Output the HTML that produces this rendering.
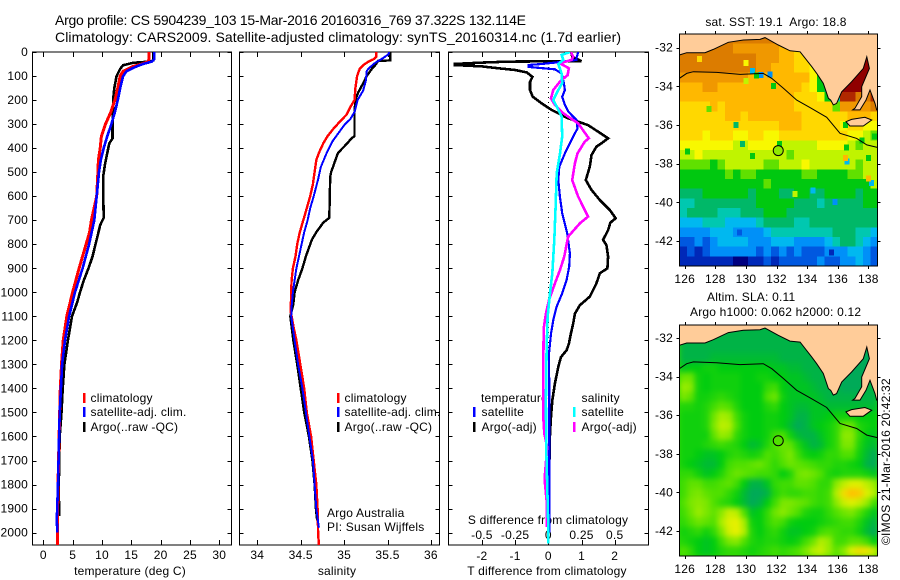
<!DOCTYPE html>
<html lang="en">
<head>
<meta charset="utf-8">
<title>Argo profile CS 5904239_103</title>
<style>
html,body{margin:0;padding:0;background:#fff;width:900px;height:580px;overflow:hidden}
svg{display:block}
text{font-family:"Liberation Sans",sans-serif;font-size:12px;fill:#000;letter-spacing:.2px}
.t{font-size:14px;letter-spacing:0}
.m{text-anchor:middle}
.e{text-anchor:end}
</style>
</head>
<body>
<svg id="chart" xmlns="http://www.w3.org/2000/svg" width="900" height="580" viewBox="0 0 900 580">
<defs>
<clipPath id="clip-sst"><rect x="679.5" y="34" width="198" height="232"/></clipPath>
<clipPath id="clip-sla"><rect x="679.5" y="325" width="198" height="231"/></clipPath>
<clipPath id="clip-p1"><rect x="32.5" y="52" width="199" height="493"/></clipPath>
<clipPath id="clip-p2"><rect x="239.5" y="52" width="200" height="493"/></clipPath>
<clipPath id="clip-p3"><rect x="448.5" y="52" width="200" height="493"/></clipPath>
<filter id="sla-blur" x="-5%" y="-5%" width="110%" height="110%" color-interpolation-filters="sRGB"><feGaussianBlur stdDeviation="3"/></filter>
</defs>
<text class="t" x="55" y="25" textLength="471" lengthAdjust="spacing">Argo profile: CS 5904239_103 15-Mar-2016 20160316_769 37.322S 132.114E</text>
<text class="t" x="55" y="42" textLength="566" lengthAdjust="spacing">Climatology: CARS2009. Satellite-adjusted climatology: synTS_20160314.nc (1.7d earlier)</text>

<text class="m" x="130" y="575">temperature (deg C)</text>
<text class="m" x="337" y="575">salinity</text>
<text class="m" x="547" y="575">T difference from climatology</text>
<text class="m" x="548" y="524">S difference from climatology</text>

<g>
<rect x="83" y="393" width="2.5" height="10" fill="#f00"/>
<rect x="83" y="407" width="2.5" height="10" fill="#00f"/>
<rect x="83" y="422" width="2.5" height="10" fill="#000"/>
<text x="90.5" y="402">climatology</text>
<text x="90.5" y="416">satellite-adj. clim.</text>
<text x="90.5" y="431">Argo(..raw -QC)</text>
</g>
<g>
<rect x="337" y="393" width="2.5" height="10" fill="#f00"/>
<rect x="337" y="407" width="2.5" height="10" fill="#00f"/>
<rect x="337" y="422" width="2.5" height="10" fill="#000"/>
<text x="344.5" y="402">climatology</text>
<text x="344.5" y="416">satellite-adj. clim.</text>
<text x="344.5" y="431">Argo(..raw -QC)</text>
<text x="327" y="517">Argo Australia</text>
<text x="327" y="531">PI: Susan Wijffels</text>
</g>
<g>
<text x="481" y="402">temperature</text>
<text x="581.5" y="402">salinity</text>
<rect x="473" y="407" width="2.5" height="10" fill="#00f"/>
<rect x="473" y="422" width="2.5" height="10" fill="#000"/>
<rect x="573" y="407" width="2.5" height="10" fill="#0ff"/>
<rect x="573" y="422" width="2.5" height="10" fill="#f0f"/>
<text x="481.5" y="416">satellite</text>
<text x="481.5" y="431">Argo(-adj)</text>
<text x="581.5" y="416">satellite</text>
<text x="581.5" y="431">Argo(-adj)</text>
</g>

<text class="m" x="776" y="26">sat. SST: 19.1&#160; Argo: 18.8</text>
<text x="707" y="301">Altim. SLA: 0.11</text>
<text x="690" y="316">Argo h1000: 0.062 h2000: 0.12</text>
<text transform="translate(890,545) rotate(-90)">©IMOS 21-Mar-2016 20:42:32</text>
</svg>
<script>
// ---- tick labels ----
const depthTicks = [0,100,200,300,400,500,600,700,800,900,1000,1100,1200,1300,1400,1500,1600,1700,1800,1900,2000];
const tempTicks = [0,5,10,15,20,25,30];
const salinityTicks = [34,34.5,35,35.5,36];
const tDiffTicks = [-2,-1,0,1,2];
const sDiffTicks = [-0.5,-0.25,0,0.25,0.5];
const lonTicks = [126,128,130,132,134,136,138];
const latTicks = [-32,-34,-36,-38,-40,-42];

// ---- temperature profiles (deg C) ----
const climTempDepth = [0,30,40,50,60,70,80,100,150,200,250,300,350,400,450,500,600,700,750,800,900,1000,1100,1200,1300,1400,1500,1600,1800,2000,2052];
const climTemp = [18,18,17.9,16.8,15.3,14.5,13.6,13.1,12.7,12.2,11.5,10.6,9.9,9.7,9.4,9.3,9.1,8.2,7.9,7.3,6.1,5,4,3.4,3.1,2.9,2.8,2.7,2.5,2.4,2.4];
const satTempDepth = [0,30,40,50,60,70,80,100,150,200,250,300,350,400,450,500,600,700,800,900,1000,1100,1200,1300,1400,1500,1600,1800,1950,2000];
const satTemp = [18.9,18.9,18.5,17,15.9,15,14.2,13.6,13.1,12.7,12.2,11.6,10.9,10.3,9.8,9.5,9.1,8.7,7.8,6.7,5.4,4.4,3.7,3.2,3,2.8,2.7,2.5,2.3,2.4];
const argoTempDepth = [0,35,40,45,50,55,70,100,150,200,250,300,360,380,420,470,520,560,690,720,760,800,850,900,950,1000,1040,1100,1200,1300,1400,1500,1600,1800,1930];
const argoTemp = [18.75,18.75,18.2,15.3,14.5,13.6,13.1,12.5,12.1,11.9,11.9,11.8,11.8,11.25,10.9,10.5,10.2,10.2,10.3,9.7,9.3,8.9,8.4,7.7,6.9,6.25,5.8,4.9,4.2,3.6,3.3,3.1,2.8,2.65,2.7];

// ---- salinity profiles ----
const climSalDepth = [0,20,30,40,55,70,100,150,200,230,260,290,320,350,380,420,450,500,550,600,650,700,750,800,850,900,950,1000,1080,1150,1200,1300,1400,1500,1600,1700,1800,1900,2000,2052];
const climSal = [35.37,35.37,35.34,35.28,35.22,35.18,35.15,35.13,35.12,35.07,35.03,34.95,34.875,34.81,34.76,34.71,34.68,34.66,34.64,34.61,34.57,34.53,34.49,34.46,34.44,34.41,34.395,34.39,34.385,34.42,34.45,34.495,34.54,34.57,34.62,34.65,34.68,34.695,34.7,34.71];
const satSalDepth = [0,10,20,30,40,50,70,80,120,160,200,250,280,300,340,370,420,480,530,600,650,700,750,800,850,900,950,1000,1060,1100,1200,1300,1400,1500,1600,1700,1800,1900,1980];
const satSal = [35.52,35.51,35.47,35.43,35.38,35.34,35.28,35.26,35.25,35.22,35.155,35.12,35.07,35.01,34.93,34.87,34.8,34.73,34.7,34.65,34.61,34.58,34.54,34.51,34.48,34.45,34.43,34.41,34.395,34.39,34.43,34.47,34.52,34.56,34.6,34.64,34.66,34.68,34.71];
const argoSalDepth = [0,35,37,50,70,100,130,170,200,250,350,360,390,420,450,500,520,690,710,750,780,820,850,900,950,1000,1050,1100,1200,1300,1400,1500,1600,1700,1800,1900,1950];
const argoSal = [35.53,35.53,35.39,35.37,35.32,35.26,35.22,35.16,35.13,35.12,35.12,35.085,35.01,34.93,34.9,34.85,34.84,34.83,34.76,34.68,34.63,34.59,34.56,34.52,34.47,34.43,34.415,34.38,34.415,34.46,34.5,34.54,34.595,34.635,34.66,34.675,34.69];

// ---- differences from climatology ----
const tDiffArgoDepth = [0,20,38,40,44,50,52,54,60,68,75,85,103,125,158,186,214,241,276,304,359,380,394,429,477,533,574,616,657,692,710,741,782,803,852,900,921,963,1018,1054,1089,1130,1172,1214,1241,1270,1310,1380,1450,1519,1588,1727,1935];
const tDiffArgo = [0.69,0.72,1,-1.2,-2,-2.85,-2.5,-2.85,-2,-1.5,-1,-0.65,-0.48,-0.55,-0.55,-0.47,-0.2,0.1,0.6,1.2,1.8,1.6,1.45,1.3,1.25,1.13,1.3,1.55,1.85,2.03,1.87,1.8,1.65,1.75,1.8,1.78,1.55,1.45,1.25,0.95,0.8,0.75,0.68,0.62,0.55,0.38,0.3,0.2,0.12,0.08,0.05,0.03,0.02];
const tDiffSatDepth = [0,25,33,44,50,54,62,72,89,130,158,186,220,248,283,318,366,422,477,533,602,671,755,838,893,949,1004,1060,1115,1172,1255,1450,1650,1900,2000];
const tDiffSat = [0.9,0.85,0.85,0.2,-0.2,-0.6,-0.6,0.2,0.4,0.47,0.5,0.42,0.5,0.6,0.85,0.88,0.7,0.5,0.33,0.3,0.35,0.42,0.57,0.65,0.63,0.55,0.42,0.25,0.15,0.08,0.02,0.03,0.03,0.03,0.03];
const sDiffSatDepth = [0,12,33,50,89,130,158,200,227,269,352,422,505,644,782,921,1004,1103,1241,1450,1658,1866,1977,2045];
const sDiffSat = [0.163,0.1,0.113,0.075,0.1,0.105,0.075,0.038,0.063,0.1,0.105,0.088,0.063,0.055,0.045,0.03,0.013,-0.005,-0.013,-0.018,-0.015,-0.005,0,0];
const sDiffArgoDepth = [0,20,33,47,68,96,123,158,193,220,255,297,359,373,422,463,533,602,685,713,768,852,907,963,1032,1089,1150,1300,1519,1588,1644,1755,1797,1866,1977];
const sDiffArgo = [0.17,0.188,0.175,0.088,0.155,0.145,0.088,0.038,0.02,0.05,0.113,0.225,0.305,0.275,0.22,0.2,0.18,0.225,0.3,0.238,0.15,0.12,0.088,0.05,0.005,-0.018,-0.035,-0.038,-0.038,-0.03,-0.008,-0.025,-0.025,-0.013,-0.013];

// ---- map coordinates ----
const coastLon = [125.65,126.13,127.33,127.87,128.85,129.83,130.92,131.25,132.12,132.88,133.54,133.97,134.3,134.63,135.06,135.39,135.54,135.71,135.93,136.26,136.91,137.67,137.9,138.07,137.57,137.57,137.13,136.98,137.46,137.85,138.11,138.44,138.55,138.6,138.6,125.65];
const coastLat = [-32.38,-32.26,-32.26,-32.09,-31.72,-31.6,-31.57,-31.48,-31.86,-32.16,-32.21,-32.64,-32.98,-33.33,-33.84,-34.62,-34.71,-34.96,-34.88,-34.28,-33.76,-33.07,-32.47,-33.07,-34.02,-34.53,-35.13,-35.22,-35.22,-34.71,-34.19,-34.88,-35.22,-35.22,-31.29,-31.29];
const islandLon = [136.54,136.91,137.78,138.22,137.67,136.8];
const islandLat = [-35.83,-35.71,-35.6,-35.74,-36.05,-36.05];
const shelfLon = [125.65,126.13,126.57,128.09,129.62,131.14,131.69,132.45,133.32,134.19,135.28,136.15,137.24,137.9,138.59];
const shelfLat = [-33.59,-33.33,-33.24,-33.28,-33.38,-33.33,-33.59,-34.1,-34.71,-35.1,-35.6,-36.43,-36.69,-37.03,-37.16];
const argoLon = 132.114;
const argoLat = -37.322;

// ---- SST map: colour level per 0.5-degree cell, north to south ----
const sstLevels = [
[14,14,14,14,14,14,14,14,14,14,14,14,14,13,13,13,13,13,13,13,13,13,13,13,13,13],
[14,14,14,14,14,14,14,13,13,13,13,13,13,12,12,11,11,10,10,10,10,10,10,10,10,10],
[14,14,14,14,14,14,14,14,14,14,13,13,13,12,12,11,11,9,8,7,7,7,7,7,16,16],
[14,14,14,14,14,14,14,14,14,14,13,13,12,12,12,11,11,10,7,5,5,5,16,16,16,16],
[13,13,13,13,13,13,13,13,13,12,12,12,12,12,12,12,12,10,7,6,5,16,16,16,16,16],
[12,12,12,13,13,12,12,12,12,12,12,12,12,12,12,12,11,10,7,6,5,16,16,16,15,15],
[12,12,12,12,12,12,12,12,12,12,12,12,12,12,12,11,11,11,10,7,5,15,15,14,14,15],
[11,11,11,11,12,11,12,12,12,12,12,12,12,12,12,11,11,11,11,11,8,13,13,13,13,14],
[11,11,11,11,11,11,12,12,11,12,12,12,12,12,12,12,11,11,11,11,11,11,12,12,12,11],
[11,11,11,11,11,11,11,11,11,11,11,11,11,12,12,12,11,11,11,11,11,10,11,11,10,10],
[11,11,11,10,11,11,11,10,10,11,11,10,10,11,11,11,11,11,11,11,11,11,10,10,9,8],
[10,10,10,10,10,10,10,9,9,10,10,10,10,9,9,9,9,9,10,10,10,10,9,8,9,9],
[9,9,10,9,9,9,9,9,9,9,9,9,9,9,8,9,9,9,9,9,9,9,9,9,9,9],
[8,8,8,8,7,8,9,9,9,9,9,8,8,9,9,9,10,9,9,9,9,9,9,8,9,9],
[7,7,7,7,7,7,8,7,8,8,7,7,7,7,7,7,8,8,7,7,7,7,8,8,9,9],
[7,7,7,7,7,7,7,7,7,7,7,8,7,7,7,7,7,7,7,7,7,7,7,7,7,9],
[6,6,6,7,7,7,7,7,7,6,7,7,7,6,6,7,7,6,6,7,7,7,7,6,7,7],
[5,5,6,6,6,6,6,6,6,6,7,7,7,7,7,6,6,6,5,6,6,6,6,6,7,7],
[5,6,6,6,6,5,5,5,6,6,6,7,7,7,6,6,6,6,6,6,6,6,6,6,6,6],
[4,4,4,5,5,5,4,4,4,4,5,6,6,6,6,5,5,6,6,6,6,6,6,6,6,6],
[3,3,3,3,4,4,4,3,3,3,3,4,5,5,5,5,5,5,5,5,6,6,6,5,5,4],
[2,2,3,2,3,4,4,4,4,3,3,3,4,4,4,3,3,3,3,4,5,6,6,5,4,3],
[1,2,1,2,3,3,3,3,3,3,2,3,2,3,2,3,2,2,2,3,3,3,4,4,3,2],
[1,1,1,1,1,1,1,0,0,1,1,2,1,2,2,2,2,2,3,2,2,3,3,4,3,2]
];
// isolated SST pixels that differ from their neighbours
const sstSpotLon = [126.96,130,130.44,131,131.58,130.7,130,131.8,127.6,129.35,129.77,132.2,126.17,130.44,136.59,136.5,137.6,138.4,138,136.6,138.2,138,136.5,133.2,134.4,135.83,129.57,135.6];
const sstSpotLat = [-32.59,-32.78,-33.2,-33.4,-33.38,-33.45,-33.72,-33.97,-35.17,-36,-36.98,-36.98,-37.38,-37.6,-37.16,-36,-36.8,-36.6,-37.7,-37.9,-39,-38.76,-37.7,-39.57,-39.4,-39.97,-41.55,-42.6];
const sstSpotLevel = [11,10,4,3,3,7,9,7,8,6,6,7,7,7,7,7,7,7,7,4,4,12,12,9,4,3,2,1];
const argoCellLevel = 8.5;

// ---- SLA map: sea level anomaly (cm) per 0.5-degree cell, north to south ----
const slaValues = [
[3,3,3,3,3,3,3,3,3,3,3,3,3,3,3,3,3,3,3,3,3,3,3,3,3,3],
[3,3,3,3,3,3,3,3,3,3,3,3,3,3,3,3,3,3,3,3,3,3,3,3,3,3],
[3,3,3,3,3,3,3,3,3,3,3,3,3,3,3,3,3,3,3,3,3,2,2,2,2,2],
[3,3,3,3,4,4,4,4,4,4,4,4,4,3,3,3,3,3,3,2,2,2,2,2,2,2],
[5,6,6,7,7,6,6,6,6,6,6,6,5,5,4,4,3,3,3,2,2,2,2,2,2,2],
[13,13,7,6,7,7,7,7,6,6,7,7,6,6,5,5,4,3,3,3,3,2,2,2,2,2],
[16,15,7,6,7,7,7,7,6,6,6,9,10,6,5,5,5,4,3,3,3,2,2,2,3,3],
[14,12,7,7,8,9,8,7,6,6,6,11,13,7,5,5,5,5,4,3,3,3,3,3,3,3],
[8,8,7,8,10,12,11,8,6,6,6,8,9,6,5,4,4,5,5,4,4,4,4,4,4,4],
[7,7,7,8,13,17,16,10,7,6,6,7,7,6,5,3,3,5,5,6,7,7,7,6,6,6],
[7,7,7,8,14,19,18,11,7,6,6,7,7,6,4,2,3,5,6,7,9,13,13,8,7,6],
[7,7,7,7,12,16,15,9,7,6,6,7,10,11,7,4,3,3,5,7,9,15,15,9,6,5],
[7,7,7,8,9,10,9,8,6,4,5,8,11,13,12,8,5,3,4,7,9,14,14,8,5,4],
[7,7,6,5,5,6,8,9,8,7,8,11,10,12,14,10,7,6,7,9,9,11,11,7,4,2],
[7,6,5,4,4,6,10,11,11,12,13,11,9,11,13,12,11,10,9,9,8,8,7,6,3,2],
[9,9,7,5,6,8,11,13,12,11,10,10,9,6,8,13,14,13,11,8,7,8,8,8,7,5],
[10,12,12,10,10,11,12,10,6,3,3,5,9,10,10,12,12,11,9,9,15,19,22,22,19,16],
[10,13,14,12,11,11,9,7,4,2,2,3,8,10,9,9,10,10,9,10,18,25,28,27,22,18],
[11,14,15,14,11,9,8,6,4,2,3,6,10,14,14,13,12,10,9,10,15,20,22,20,16,10],
[10,13,16,14,12,15,20,19,11,5,6,9,13,15,13,11,8,7,7,9,11,13,14,11,8,5],
[9,11,13,12,11,17,22,23,17,7,6,9,11,10,7,6,6,6,7,8,9,10,10,8,5,3],
[7,8,9,7,9,14,21,23,18,8,6,8,9,7,5,5,6,7,10,11,10,9,9,7,4,2],
[8,7,6,5,6,10,14,15,11,8,7,8,8,7,6,7,10,13,18,16,10,10,12,12,10,6],
[11,9,6,5,6,8,9,9,8,7,8,9,10,9,10,11,14,18,20,16,12,15,22,25,24,20]
];

const NS = 'http://www.w3.org/2000/svg';
const svg = document.getElementById('chart');
const colorStops = ['#000080','#0028b8','#0058e0','#0090f8','#00b8f0','#00c8b0','#00b868','#00c810','#60e000','#c0f400','#f8f800','#ffd800','#ffb800','#f09800','#dc7c00','#b02800','#900000'];
const slaScaleCm = [2,6,11,17,23,28];
const slaScaleColor = ['#00aa58','#00cc10','#50e000','#a8ee00','#e8f000','#ffc000'];

// axis functions
const yDepth = d => 52 + d * 0.2403;
const xTemp = v => 43.3 + v * 5.867;
const xSal = v => 257.3 + (v - 34) * 86.8;
const xTDiff = v => 548.3 + v * 33.2;
const xSDiff = v => 548.3 + v * 132.8;
const xLon = v => 684.7 + (v - 126) * 15.3;
const ySst = v => 47.7 + (-32 - v) * 19.33;
const ySla = v => 338 + (-32 - v) * 19.3;
const gridLon0 = 125.65, gridLat0 = -31.29, gridStep = 0.5;

function node(tag, attrs, parent) {
  const el = document.createElementNS(NS, tag);
  for (const k in attrs) el.setAttribute(k, attrs[k]);
  (parent || svg).appendChild(el);
  return el;
}
function hexRgb(h) { return [parseInt(h.slice(1,3),16), parseInt(h.slice(3,5),16), parseInt(h.slice(5,7),16)]; }
function mix(h1, h2, f) {
  const a = hexRgb(h1), b = hexRgb(h2);
  return 'rgb(' + a.map((v, n) => Math.round(v + (b[n] - v) * f)).join(',') + ')';
}
function levelColor(l) {
  const c = Math.max(0, Math.min(colorStops.length - 1, l));
  const i = Math.min(colorStops.length - 2, Math.floor(c));
  return mix(colorStops[i], colorStops[i + 1], c - i);
}
function slaColor(cm) {
  const c = Math.max(slaScaleCm[0], Math.min(slaScaleCm[slaScaleCm.length - 1], cm));
  let i = 0;
  while (i < slaScaleCm.length - 2 && c > slaScaleCm[i + 1]) i++;
  return mix(slaScaleColor[i], slaScaleColor[i + 1], (c - slaScaleCm[i]) / (slaScaleCm[i + 1] - slaScaleCm[i]));
}

function drawProfile(group, xs, depths, xf, color, width, name) {
  const pts = xs.map((v, i) => xf(v).toFixed(1) + ',' + yDepth(depths[i]).toFixed(1)).join(' ');
  const line = node('polyline', {points: pts, fill: 'none', stroke: color, 'stroke-width': width, 'shape-rendering': 'crispEdges'}, group);
  
  
}

function drawFrame(x, w, name, xTicks, xf, xTickY, xFmt) {
  const g = node('g', {}, svg);
  
  
  const box = node('rect', {x: x, y: 52, width: w, height: 493, fill: 'none', stroke: '#000', 'stroke-width': 1, 'shape-rendering': 'crispEdges'}, g);
  
  
  depthTicks.forEach(d => {
    const y = Math.round(yDepth(d)) + 0.5;
    const tl = node('line', {x1: x, x2: x + 4, y1: y, y2: y, stroke: '#000', 'shape-rendering': 'crispEdges'}, g);
    
    
    const tr = node('line', {x1: x + w - 4, x2: x + w, y1: y, y2: y, stroke: '#000', 'shape-rendering': 'crispEdges'}, g);
    
    
  });
  xTicks.forEach(v => {
    const px = Math.round(xf(v)) + 0.5;
    const t1 = node('line', {x1: px, x2: px, y1: 52, y2: 57, stroke: '#000', 'shape-rendering': 'crispEdges'}, g);
    
    
    const t2 = node('line', {x1: px, x2: px, y1: 540, y2: 545, stroke: '#000', 'shape-rendering': 'crispEdges'}, g);
    
    
    const lab = node('text', {x: xf(v), y: xTickY, 'text-anchor': 'middle'}, g);
    lab.textContent = xFmt(v);
    
    
  });
  return g;
}

// depth labels
const depthLabels = node('g', {}, svg);


depthTicks.forEach(d => {
  const t = node('text', {x: 28, y: yDepth(d) + 4, 'text-anchor': 'end'}, depthLabels);
  t.textContent = d;
  
  
});

// panel 1: temperature
const p1 = drawFrame(32.5, 199, 'temperature-panel', tempTicks, xTemp, 559, v => v);
const p1c = node('g', {'clip-path': 'url(#clip-p1)'}, p1);
drawProfile(p1c, argoTemp, argoTempDepth, xTemp, '#000', 2.6, 'temperature-argo-line');
drawProfile(p1c, climTemp, climTempDepth, xTemp, '#f00', 3, 'temperature-climatology-line');
drawProfile(p1c, satTemp, satTempDepth, xTemp, '#00f', 2.6, 'temperature-satellite-line');

// panel 2: salinity
const p2 = drawFrame(239.5, 200, 'salinity-panel', salinityTicks, xSal, 559, v => v);
const p2c = node('g', {'clip-path': 'url(#clip-p2)'}, p2);
drawProfile(p2c, argoSal, argoSalDepth, xSal, '#000', 2.4, 'salinity-argo-line');
drawProfile(p2c, climSal, climSalDepth, xSal, '#f00', 2.4, 'salinity-climatology-line');
drawProfile(p2c, satSal, satSalDepth, xSal, '#00f', 2, 'salinity-satellite-line');

// panel 3: differences
const p3 = drawFrame(448.5, 200, 'difference-panel', tDiffTicks, xTDiff, 560, v => v);
sDiffTicks.forEach(v => {
  const lab = node('text', {x: xSDiff(v), y: 539, 'text-anchor': 'middle'}, p3);
  lab.textContent = v;
  
  
});
const p3c = node('g', {'clip-path': 'url(#clip-p3)'}, p3);
const zeroLine = node('line', {x1: xTDiff(0), x2: xTDiff(0), y1: 52, y2: 545, stroke: '#000', 'stroke-dasharray': '1 4', 'shape-rendering': 'crispEdges'}, p3c);


drawProfile(p3c, tDiffArgo, tDiffArgoDepth, xTDiff, '#000', 2.6, 't-difference-argo-line');
drawProfile(p3c, tDiffSat, tDiffSatDepth, xTDiff, '#00f', 2.2, 't-difference-satellite-line');
drawProfile(p3c, sDiffArgo, sDiffArgoDepth, xSDiff, '#f0f', 2.6, 's-difference-argo-line');
drawProfile(p3c, sDiffSat, sDiffSatDepth, xSDiff, '#0ff', 2.6, 's-difference-satellite-line');

// maps
function drawMap(grid, colorOf, yf, top, bottom, clipId, name, smooth, spots, markerFill) {
  const g = node('g', {}, svg);
  
  
  const c = node('g', {'clip-path': 'url(#' + clipId + ')'}, g);
  if (smooth) {
    const back = node('rect', {x: 679.5, y: top, width: 198, height: bottom - top, fill: colorOf(9)}, c);
    
    
  }
  const cells = node('g', smooth ? {filter: 'url(#sla-blur)'} : {}, c);
  grid.forEach((row, j) => row.forEach((v, i) => {
    const x0 = xLon(gridLon0 + i * gridStep), x1 = xLon(gridLon0 + (i + 1) * gridStep);
    const y0 = yf(gridLat0 - j * gridStep), y1 = yf(gridLat0 - (j + 1) * gridStep);
    const cell = node('rect', {x: x0.toFixed(1), y: y0.toFixed(1), width: (x1 - x0 + 0.5).toFixed(1), height: (y1 - y0 + 0.5).toFixed(1), fill: colorOf(v), 'shape-rendering': 'crispEdges'}, cells);
    
    
  }));
  if (spots) {
    spots.lon.forEach((v, i) => {
      const spot = node('rect', {x: (xLon(v) - 2.5).toFixed(1), y: (yf(spots.lat[i]) - 3).toFixed(1), width: 5, height: 6, fill: colorOf(spots.level[i]), 'shape-rendering': 'crispEdges'}, c);
      
      
    });
  }
  const land = node('polygon', {points: coastLon.map((v, i) => xLon(v).toFixed(1) + ',' + yf(coastLat[i]).toFixed(1)).join(' '), fill: '#ffcc99', stroke: '#000', 'stroke-width': 1}, c);
  
  
  const island = node('polygon', {points: islandLon.map((v, i) => xLon(v).toFixed(1) + ',' + yf(islandLat[i]).toFixed(1)).join(' '), fill: '#ffcc99', stroke: '#000', 'stroke-width': 1}, c);
  
  
  const shelf = node('polyline', {points: shelfLon.map((v, i) => xLon(v).toFixed(1) + ',' + yf(shelfLat[i]).toFixed(1)).join(' '), fill: 'none', stroke: '#000', 'stroke-width': 1}, c);
  
  
  const pos = node('circle', {cx: xLon(argoLon), cy: yf(argoLat), r: 5, fill: markerFill, stroke: '#000', 'stroke-width': 1}, g);
  
  
  const box = node('rect', {x: 679.5, y: top, width: 198, height: bottom - top, fill: 'none', stroke: '#000', 'shape-rendering': 'crispEdges'}, g);
  
  
  lonTicks.forEach(v => {
    const px = Math.round(xLon(v)) + 0.5;
    const t1 = node('line', {x1: px, x2: px, y1: top - 3, y2: top, stroke: '#000', 'shape-rendering': 'crispEdges'}, g);
    
    
    const t2 = node('line', {x1: px, x2: px, y1: bottom, y2: bottom + 3, stroke: '#000', 'shape-rendering': 'crispEdges'}, g);
    
    
    const lab = node('text', {x: xLon(v), y: bottom + 17, 'text-anchor': 'middle'}, g);
    lab.textContent = v;
    
    
  });
  latTicks.forEach(v => {
    const py = Math.round(yf(v)) + 0.5;
    const t1 = node('line', {x1: 676.5, x2: 679.5, y1: py, y2: py, stroke: '#000', 'shape-rendering': 'crispEdges'}, g);
    
    
    const t2 = node('line', {x1: 877.5, x2: 880.5, y1: py, y2: py, stroke: '#000', 'shape-rendering': 'crispEdges'}, g);
    
    
    const lab = node('text', {x: 673, y: yf(v) + 4, 'text-anchor': 'end'}, g);
    lab.textContent = v;
    
    
  });
}
drawMap(sstLevels, levelColor, ySst, 34, 266, 'clip-sst', 'sst-map', false, {lon: sstSpotLon, lat: sstSpotLat, level: sstSpotLevel}, levelColor(argoCellLevel));
drawMap(slaValues, slaColor, ySla, 325, 556, 'clip-sla', 'sla-map', true, null, slaColor(11));
</script>
</body>
</html>
